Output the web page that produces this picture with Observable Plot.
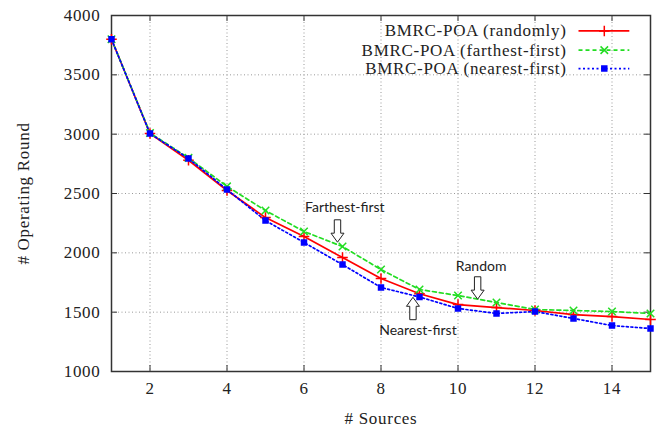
<!DOCTYPE html>
<html><head><meta charset="utf-8">
<script src="https://cdn.jsdelivr.net/npm/d3@7"></script>
<script src="https://cdn.jsdelivr.net/npm/@observablehq/plot@0.6"></script>
<style>body{margin:0;background:#fff} svg{display:block}</style>
</head><body><div id="chart"></div>
<script>
// ---- data ----
const sources = [1, 2, 3, 4, 5, 6, 7, 8, 9, 10, 11, 12, 13, 14, 15];
const randomly = [3800, 3005, 2780, 2525, 2297, 2137, 1960, 1783, 1655, 1564, 1539, 1514, 1480, 1463, 1438];
const farthestFirst = [3800, 3010, 2800, 2560, 2356, 2180, 2053, 1859, 1691, 1640, 1581, 1522, 1514, 1505, 1489];
const nearestFirst = [3800, 3005, 2795, 2533, 2272, 2087, 1901, 1708, 1628, 1531, 1489, 1505, 1447, 1387, 1362];
const seriesNames = ["BMRC-POA (randomly)", "BMRC-POA (farthest-first)", "BMRC-POA (nearest-first)"];
const xTicks = [2, 4, 6, 8, 10, 12, 14];
const yTicks = [1000, 1500, 2000, 2500, 3000, 3500, 4000];
const annotationTexts = ["Farthest-first", "Random", "Nearest-first"];
const annotationX = [7.06, 10.6, 8.96];
const annotationY = [2385, 1885, 1345];
const arrowX = [6.87, 10.51, 8.83];
const arrowY = [2275, 1795, 1440];
const arrowRotate = [180, 180, 0];

// ---- layout / style ----
const W = 657, H = 432;
const M = {top: 15, right: 7, bottom: 61, left: 111};
const innerH = H - M.top - M.bottom, innerW = W - M.left - M.right;
const styles = [
  {color: "#ff0000", dash: null, symbol: "plus", fill: "none"},
  {color: "#22dd22", dash: "4,3", symbol: "times", fill: "none"},
  {color: "#0000ff", dash: "2,2.5", symbol: "square", fill: "#0000ff"}
];
const legendTextX = 12.82, legendLineX1 = 13.13, legendLineX2 = 14.45, legendMarkX = 13.8;
const legendY = [3870, 3708, 3553];

const seriesValues = [randomly, farthestFirst, nearestFirst];
const rows = seriesValues.flatMap((vals, s) => sources.map((x, i) => ({x, y: vals[i], s})));

const blockArrow = {
  draw(context, l) {
    const hw = 6.5, sw = 3.2, hl = 9;
    context.moveTo(-sw, 0);
    context.lineTo(-sw, -l + hl);
    context.lineTo(-hw, -l + hl);
    context.lineTo(0, -l);
    context.lineTo(hw, -l + hl);
    context.lineTo(sw, -l + hl);
    context.lineTo(sw, 0);
    context.closePath();
  }
};

const marks = [
  Plot.ruleX(xTicks, {stroke: "#999", strokeDasharray: "1,2.5", strokeWidth: 1}),
  Plot.ruleY(yTicks.slice(1, -1), {stroke: "#999", strokeDasharray: "1,2.5", strokeWidth: 1}),
  Plot.ruleX(xTicks, {stroke: "#333", insetTop: innerH - 6}),
  Plot.ruleX(xTicks, {stroke: "#333", insetBottom: innerH - 6}),
  Plot.ruleY(yTicks, {stroke: "#333", insetRight: innerW - 6}),
  Plot.ruleY(yTicks, {stroke: "#333", insetLeft: innerW - 6}),
  Plot.frame({stroke: "#333", strokeWidth: 1.5})
];
styles.forEach((st, s) => {
  const d = rows.filter(r => r.s === s);
  marks.push(Plot.line(d, {x: "x", y: "y", stroke: st.color, strokeWidth: 1.7, strokeDasharray: st.dash}));
});
styles.forEach((st, s) => {
  const d = rows.filter(r => r.s === s);
  marks.push(Plot.dot(d, {x: "x", y: "y", symbol: st.symbol, stroke: st.color, fill: st.fill, r: st.symbol === "square" ? 2.8 : 3.5, strokeWidth: 1.5}));
  // legend
  marks.push(Plot.text([seriesNames[s]], {x: legendTextX, y: legendY[s], text: d => d, textAnchor: "end", fontSize: 17, fill: "#222"}));
  marks.push(Plot.link([s], {x1: legendLineX1, x2: legendLineX2, y1: legendY[s], y2: legendY[s], stroke: st.color, strokeWidth: 1.7, strokeDasharray: st.dash}));
  marks.push(Plot.dot([s], {x: legendMarkX, y: legendY[s], symbol: st.symbol, stroke: st.color, fill: st.fill, r: st.symbol === "square" ? 2.8 : 3.5, strokeWidth: 1.5}));
});
const ann = annotationTexts.map((t, i) => ({t, x: annotationX[i], y: annotationY[i], ax: arrowX[i], ay: arrowY[i], rot: arrowRotate[i]}));
marks.push(Plot.text(ann, {x: "x", y: "y", text: "t", fontFamily: "Lato, 'Open Sans', sans-serif", fontSize: 14, fill: "#222"}));
marks.push(Plot.vector(ann, {x: "ax", y: "ay", rotate: "rot", length: 22, anchor: "start", shape: blockArrow, fill: "white", stroke: "#222", strokeWidth: 1}));

const chart = Plot.plot({
  width: W, height: H,
  marginTop: M.top, marginRight: M.right, marginBottom: M.bottom, marginLeft: M.left,
  style: {fontFamily: "'Liberation Serif', 'Times New Roman', serif", fontSize: "17px", letterSpacing: "0.7px", color: "#222", background: "#fff"},
  x: {domain: [1, 15], ticks: xTicks, tickFormat: d => String(d), tickSize: 0, tickPadding: 10, label: "# Sources", labelAnchor: "center", labelOffset: 52, labelArrow: "none"},
  y: {domain: [1000, 4000], ticks: yTicks, tickFormat: d => String(d), tickSize: 0, tickPadding: 11, label: "# Operating Round", labelAnchor: "center", labelOffset: 95, labelArrow: "none"},
  marks
});
d3.select(chart).selectAll("g[font-family^='Lato']").style("letter-spacing", "0px");
document.getElementById("chart").appendChild(chart);
</script>
</body></html>
